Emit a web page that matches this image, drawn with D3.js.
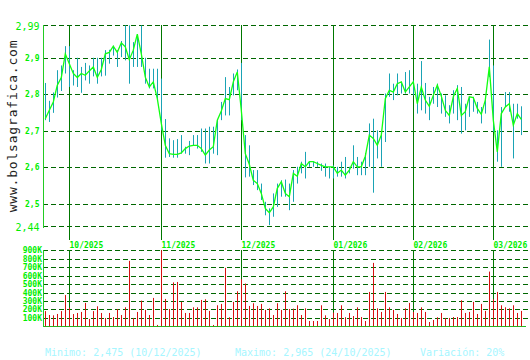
<!DOCTYPE html>
<html>
<head>
<meta charset="utf-8">
<script src="https://cdn.jsdelivr.net/npm/d3@7/dist/d3.min.js"></script>
<style>
  body { margin: 0; background: #fff; }
  svg { display: block; }
  .lbl { font-family: "DejaVu Sans Mono", monospace; }
</style>
</head>
<body>
<svg width="530" height="360"></svg>
<script>
// daily closes, highs and lows (index 0 = late Sep 2025)
var closes = [2.733,2.756,2.779,2.825,2.846,2.911,2.884,2.857,2.846,2.857,
  2.852,2.864,2.875,2.846,2.868,2.911,2.915,2.932,2.915,2.941,
  2.930,2.895,2.921,2.965,2.911,2.847,2.820,2.834,2.788,2.720,
  2.660,2.637,2.635,2.635,2.639,2.651,2.658,2.660,2.660,2.651,
  2.633,2.647,2.656,2.729,2.754,2.788,2.785,2.834,2.861,2.756,
  2.637,2.608,2.564,2.555,2.528,2.487,2.475,2.491,2.542,2.560,
  2.528,2.519,2.583,2.575,2.610,2.601,2.615,2.615,2.610,2.605,
  2.601,2.601,2.601,2.583,2.592,2.578,2.592,2.615,2.601,2.601,
  2.630,2.688,2.679,2.660,2.688,2.788,2.811,2.806,2.829,2.834,
  2.806,2.820,2.834,2.774,2.820,2.784,2.767,2.797,2.825,2.795,
  2.756,2.742,2.793,2.816,2.742,2.752,2.793,2.791,2.761,2.745,
  2.784,2.875,2.729,2.642,2.747,2.765,2.774,2.715,2.747,2.731];
var highs = [2.831,2.782,2.805,2.866,2.879,2.932,2.932,2.866,2.900,2.875,
  2.886,2.879,2.900,2.900,2.900,2.921,2.922,2.933,2.921,2.946,
  2.989,2.989,2.943,2.965,2.989,2.900,2.870,2.870,2.870,2.843,
  2.732,2.679,2.674,2.677,2.688,2.656,2.672,2.688,2.688,2.706,
  2.706,2.711,2.711,2.729,2.779,2.847,2.820,2.857,2.868,2.886,
  2.688,2.660,2.592,2.592,2.555,2.505,2.487,2.528,2.555,2.564,
  2.566,2.555,2.592,2.601,2.615,2.642,2.615,2.615,2.615,2.610,
  2.610,2.601,2.605,2.601,2.615,2.628,2.601,2.660,2.628,2.615,
  2.639,2.720,2.733,2.701,2.692,2.802,2.857,2.829,2.857,2.834,
  2.861,2.866,2.838,2.829,2.891,2.831,2.793,2.820,2.829,2.802,
  2.797,2.770,2.811,2.825,2.820,2.774,2.793,2.793,2.779,2.765,
  2.793,2.950,2.879,2.701,2.765,2.806,2.806,2.774,2.774,2.767];
var lows = [2.729,2.724,2.749,2.791,2.809,2.857,2.820,2.824,2.820,2.804,
  2.838,2.829,2.849,2.829,2.849,2.851,2.884,2.906,2.875,2.902,
  2.893,2.829,2.875,2.875,2.875,2.829,2.816,2.816,2.784,2.701,
  2.626,2.628,2.626,2.626,2.637,2.637,2.633,2.660,2.651,2.642,
  2.610,2.610,2.637,2.633,2.729,2.742,2.742,2.797,2.811,2.729,
  2.572,2.574,2.551,2.537,2.510,2.468,2.441,2.464,2.491,2.519,
  2.519,2.482,2.505,2.555,2.583,2.569,2.601,2.601,2.601,2.590,
  2.574,2.569,2.569,2.574,2.574,2.569,2.583,2.596,2.578,2.578,
  2.578,2.601,2.530,2.624,2.601,2.669,2.793,2.784,2.797,2.802,
  2.802,2.802,2.797,2.747,2.756,2.747,2.729,2.774,2.765,2.747,
  2.738,2.720,2.747,2.729,2.692,2.701,2.738,2.752,2.747,2.720,
  2.747,2.847,2.697,2.615,2.601,2.765,2.752,2.624,2.733,2.688];
// daily volume, in thousands
var volumes = [180,134,130,146,180,370,220,145,158,170,
  277,87,180,237,158,99,158,110,205,134,
  225,775,99,170,304,194,134,336,16,900,
  324,205,520,525,289,158,158,225,225,312,
  320,182,16,249,265,692,107,289,415,557,
  506,241,273,241,265,194,213,134,273,194,
  415,205,209,249,134,213,63,63,63,249,
  130,87,162,158,249,108,158,122,225,110,
  63,407,751,213,170,407,225,194,146,99,
  213,277,170,158,225,170,51,75,107,158,
  99,99,110,110,308,158,170,289,146,265,
  182,648,320,407,249,225,213,249,158,182];

var priceTicks = [2.99, 2.9, 2.8, 2.7, 2.6, 2.5, 2.44];
var priceTickLabels = ["2,99", "2,9", "2,8", "2,7", "2,6", "2,5", "2,44"];
var volTicks = [100, 200, 300, 400, 500, 600, 700, 800, 900];
var volTickLabels = ["100K", "200K", "300K", "400K", "500K", "600K", "700K", "800K", "900K"];
var monthIdx = [6, 29, 49, 72, 92, 112];
var monthLabels = ["10/2025", "11/2025", "12/2025", "01/2026", "02/2026", "03/2026"];
var footer = ["Minimo: 2,475 (10/12/2025)", "Maximo: 2,965 (24/10/2025)", "Variación: 20%"];

var svg = d3.select("svg");
var left = 43, right = 528;

var x = d3.scaleLinear().domain([0, closes.length - 1]).range([45.3, 45.3 + 4 * (closes.length - 1)]);
var y = d3.scaleLinear().domain([2.44, 2.99]).range([225.5, 25]);
var yv = d3.scaleLinear().domain([0, 900]).range([326.3, 250.3]);

var gridCol = "#006600", lime = "#00ee00";

// price gridlines
svg.selectAll(".pgrid").data(priceTicks).enter().append("line")
  .attr("x1", left).attr("x2", right)
  .attr("y1", function(d) { return Math.round(y(d)) + 0.5; })
  .attr("y2", function(d) { return Math.round(y(d)) + 0.5; })
  .attr("stroke", gridCol).attr("stroke-dasharray", "5,3");

// volume gridlines
svg.selectAll(".vgrid").data(volTicks).enter().append("line")
  .attr("x1", left).attr("x2", right)
  .attr("y1", function(d) { return Math.round(yv(d)) + 0.5; })
  .attr("y2", function(d) { return Math.round(yv(d)) + 0.5; })
  .attr("stroke", gridCol).attr("stroke-dasharray", "5,3");

// month separators
monthIdx.forEach(function(m, k) {
  var mx = Math.round(x(m)) + 0.5;
  svg.append("line").attr("x1", mx).attr("x2", mx).attr("y1", 25).attr("y2", 240)
    .attr("stroke", "#007700");
  svg.append("line").attr("x1", mx).attr("x2", mx).attr("y1", 250).attr("y2", 326)
    .attr("stroke", "#007700");
  svg.append("text").attr("class", "lbl")
    .attr("x", mx).attr("y", 247.5)
    .attr("font-size", 8).attr("font-weight", "bold")
    .attr("fill", lime).text(monthLabels[k]);
});

// axes lines
svg.append("line").attr("x1", left + 0.5).attr("x2", left + 0.5).attr("y1", 25).attr("y2", 228)
  .attr("stroke", "#22cc22");
svg.append("line").attr("x1", left + 0.5).attr("x2", left + 0.5).attr("y1", 250).attr("y2", 327)
  .attr("stroke", "#22cc22");
svg.append("line").attr("x1", left).attr("x2", 526).attr("y1", 326.5).attr("y2", 326.5)
  .attr("stroke", "#22bb22");

// price tick labels
svg.selectAll(".ptl").data(priceTicks).enter().append("text")
  .attr("class", "lbl")
  .attr("x", 39.5)
  .attr("y", function(d, i) { return y(d) + (i === 0 || i === priceTicks.length - 1 ? 5 : 3); })
  .attr("text-anchor", "end")
  .attr("font-size", function(d, i) { return (i === 0 || i === priceTicks.length - 1) ? 10 : 8; })
  .attr("font-weight", function(d, i) { return (i === 0 || i === priceTicks.length - 1) ? "normal" : "bold"; })
  .attr("fill", lime)
  .text(function(d, i) { return priceTickLabels[i]; });

// volume tick labels
svg.selectAll(".vtl").data(volTicks).enter().append("text")
  .attr("class", "lbl")
  .attr("x", 42)
  .attr("y", function(d) { return yv(d) + 3; })
  .attr("text-anchor", "end")
  .attr("font-size", 8).attr("font-weight", "bold")
  .attr("fill", lime)
  .text(function(d, i) { return volTickLabels[i]; });

// volume bars
svg.selectAll(".vol").data(volumes).enter().append("line")
  .attr("x1", function(d, i) { return Math.round(x(i)) + 0.5; })
  .attr("x2", function(d, i) { return Math.round(x(i)) + 0.5; })
  .attr("y1", yv(0)).attr("y2", function(d) { return yv(d); })
  .attr("stroke", "#d81010");

// high-low bars
svg.selectAll(".hl").data(highs).enter().append("line")
  .attr("x1", function(d, i) { return Math.round(x(i)) + 0.5; })
  .attr("x2", function(d, i) { return Math.round(x(i)) + 0.5; })
  .attr("y1", function(d) { return y(d); })
  .attr("y2", function(d, i) { return y(lows[i]); })
  .attr("stroke", "#1aa3b5");

// close line
var line = d3.line().x(function(d, i) { return x(i); }).y(function(d) { return y(d); });
svg.append("path").datum(closes)
  .attr("d", line).attr("fill", "none")
  .attr("stroke", "#11ff11").attr("stroke-width", 1.3);

// site label
svg.append("text").attr("class", "lbl")
  .attr("transform", "translate(17,126) rotate(-90)")
  .attr("text-anchor", "middle")
  .attr("font-size", 13).attr("letter-spacing", 0.8).attr("fill", "#222")
  .text("www.bolsagrafica.com");

// footer
var fx = [45, 235, 420];
footer.forEach(function(t, i) {
  svg.append("text").attr("class", "lbl")
    .attr("x", fx[i]).attr("y", 356)
    .attr("font-size", 10).attr("fill", "#a6f6ff")
    .text(t);
});
</script>
</body>
</html>
